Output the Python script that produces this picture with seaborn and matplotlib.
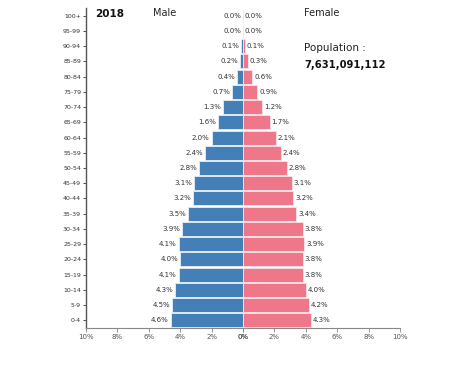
import matplotlib
matplotlib.use("Agg")
import matplotlib.pyplot as plt
import seaborn as sns
import pandas as pd

ages = ["100+", "95-99", "90-94", "85-89", "80-84", "75-79", "70-74", "65-69",
        "60-64", "55-59", "50-54", "45-49", "40-44", "35-39", "30-34", "25-29",
        "20-24", "15-19", "10-14", "5-9", "0-4"]
male = [0.0, 0.0, 0.1, 0.2, 0.4, 0.7, 1.3, 1.6, 2.0, 2.4, 2.8, 3.1, 3.2, 3.5,
        3.9, 4.1, 4.0, 4.1, 4.3, 4.5, 4.6]
female = [0.0, 0.0, 0.1, 0.3, 0.6, 0.9, 1.2, 1.7, 2.1, 2.4, 2.8, 3.1, 3.2, 3.4,
          3.8, 3.9, 3.8, 3.8, 4.0, 4.2, 4.3]
xticks = [0, 2, 4, 6, 8, 10]
xticklabels = ["0%", "2%", "4%", "6%", "8%", "10%"]
year = "2018"
population = "7,631,091,112"

sns.set_style("white")
plt.rcParams['font.family'] = ['DejaVu Sans']

df = pd.DataFrame({"age": ages, "male": male, "female": female})

blue = "#4480b7"
pink = "#ee7889"
txt = "#333333"

fig = plt.figure(figsize=(4.55, 3.7), dpi=100)
W, H = 455, 370
bot = 1 - 328 / H
hgt = (328 - 8) / H
axL = fig.add_axes([86 / W, bot, 157 / W, hgt])
axR = fig.add_axes([243 / W, bot, 157 / W, hgt])

sns.barplot(data=df, x="male", y="age", orient="h", ax=axL, color=blue,
            width=0.92, edgecolor="#e8eef5", linewidth=0.6, saturation=1)
sns.barplot(data=df, x="female", y="age", orient="h", ax=axR, color=pink,
            width=0.92, edgecolor="#f8e4e8", linewidth=0.6, saturation=1)

axL.set_xlim(10, 0)
axR.set_xlim(0, 10)
for ax in (axL, axR):
    ax.set_ylim(len(ages) - 0.5, -0.5)
    ax.set_xlabel("")
    ax.set_ylabel("")
    ax.set_xticks(xticks)
    ax.set_xticklabels(xticklabels, fontsize=5, color="#555555")
    ax.tick_params(axis="x", length=3, width=0.6, color="#888888", pad=1.5,
                   bottom=True, direction="out")
    for s in ("top", "right", "left"):
        ax.spines[s].set_visible(False)
    ax.spines["bottom"].set_color("#888888")
    ax.spines["bottom"].set_linewidth(0.8)

axL.spines["left"].set_visible(True)
axL.spines["left"].set_color("#555555")
axL.spines["left"].set_linewidth(1.0)
axL.tick_params(axis="y", labelsize=4.5, colors="#333333", length=2, width=0.6,
                pad=1.5, left=True)
axR.set_yticks([])

for i, (m, f) in enumerate(zip(male, female)):
    axL.text(m + 0.12, i, f"{m:.1f}%", ha="right", va="center", fontsize=5,
             color=txt)
    axR.text(f + 0.12, i, f"{f:.1f}%", ha="left", va="center", fontsize=5,
             color=txt)

fig.text(95 / W, 1 - 14 / H, year, fontsize=7.5, fontweight="bold",
         ha="left", va="center", color="#111111")
fig.text(153 / W, 1 - 13 / H, "Male", fontsize=7, ha="left", va="center",
         color="#222222")
fig.text(304 / W, 1 - 13 / H, "Female", fontsize=7, ha="left", va="center",
         color="#222222")
fig.text(304 / W, 1 - 48 / H, "Population :", fontsize=7.5, ha="left",
         va="center", color="#222222")
fig.text(304 / W, 1 - 65 / H, population, fontsize=7.2, fontweight="bold",
         ha="left", va="center", color="#111111")

fig.savefig("out.png", dpi=100)
